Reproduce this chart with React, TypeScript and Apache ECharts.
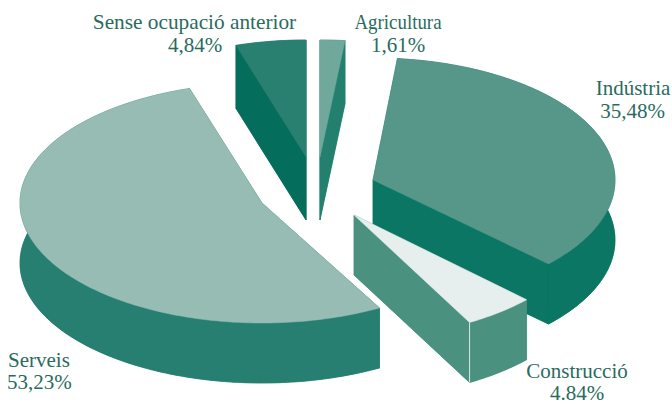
import React, { useEffect, useRef } from "react";
import * as echarts from "echarts";

const categories = ["Agricultura", "Indústria", "Construcció", "Serveis", "Sense ocupació anterior"];
const shares = [1.61, 35.48, 4.84, 53.23, 4.84];
const shareLabels = ["1,61%", "35,48%", "4.84%", "53,23%", "4,84%"];

const topColors = ["#70A89C", "#56978A", "#E6EFEE", "#97BCB4", "#2A8070"];
const sideColors = ["#23806F", "#0A7663", "#4B9180", "#267F70", "#056D5C"];
const textColor = "#2A6B60";

// Exploded position of every slice: centre x, centre y, radius x, radius y, depth
const sliceLayout = [
  [320, 157, 248, 117, 63],
  [373, 180, 242, 122, 60],
  [354, 215, 238, 123, 60],
  [262, 203, 242, 120, 60],
  [306, 157, 234, 117, 63],
];
// x, y, alignment, horizontal scale of each name and each percentage
const nameAnchors = [
  [398, 22, "center", 0.9],
  [633, 88, "center", 1],
  [577, 371, "center", 1],
  [8, 360, "left", 1],
  [194.5, 22, "center", 1.015],
];
const valueAnchors = [
  [398, 45, "center", 1],
  [632.5, 110.5, "center", 1],
  [577, 393, "center", 1],
  [7, 382, "left", 1],
  [195, 45, "center", 1],
];
const FONT = "'Liberation Serif', serif";
const FONT_SIZE = 21;

function renderSlice(params: any, api: any) {
  const i = params.dataIndex;
  const total = shares.reduce((a, b) => a + b, 0);
  const before = shares.slice(0, i).reduce((a, b) => a + b, 0);
  const a0 = (before / total) * 360;
  const a1 = a0 + (api.value(0) / total) * 360;
  const [cx, cy, rx, ry, d] = sliceLayout[i];
  const pt = (deg: number, dy = 0) => {
    const r = (deg * Math.PI) / 180;
    return [cx + rx * Math.sin(r), cy - ry * Math.cos(r) + dy];
  };
  const rim: number[][] = [];
  const n = Math.max(2, Math.ceil(a1 - a0));
  for (let k = 0; k <= n; k++) rim.push(pt(a0 + ((a1 - a0) * k) / n));
  const rimLow = rim.map((p) => [p[0], p[1] + d]);
  const side = { fill: sideColors[i], stroke: sideColors[i], lineWidth: 0.5 };
  const poly = (points: number[][], style: any) => ({
    type: "polygon",
    shape: { points },
    style,
    silent: true,
  });
  const children: any[] = [
    poly([[cx, cy + d], ...rimLow], side),
    poly([[cx, cy], pt(a0), pt(a0, d), [cx, cy + d]], side),
    poly([[cx, cy], pt(a1), pt(a1, d), [cx, cy + d]], side),
    poly([...rim, ...rimLow.slice().reverse()], side),
  ];
  // Construcció has a fine light seam between its two visible faces
  if (i === 2) {
    const c = pt(a1);
    children.push({
      type: "line",
      shape: { x1: c[0], y1: c[1], x2: c[0], y2: c[1] + d },
      style: { stroke: "#DDEAE6", lineWidth: 1 },
      silent: true,
    });
  }
  children.push(
    poly([[cx, cy], ...rim], { fill: topColors[i], stroke: topColors[i], lineWidth: 0.5 })
  );
  return { type: "group", children };
}

function labelGraphics() {
  const out: any[] = [];
  const add = (text: string, a: any[]) =>
    out.push({
      type: "text",
      x: a[0],
      y: a[1],
      scaleX: a[3],
      silent: true,
      style: {
        text,
        fill: textColor,
        font: `${FONT_SIZE}px ${FONT}`,
        textAlign: a[2],
        textVerticalAlign: "middle",
      },
    });
  categories.forEach((c, i) => add(c, nameAnchors[i]));
  shareLabels.forEach((s, i) => add(s, valueAnchors[i]));
  return out;
}

export default function App() {
  const ref = useRef<HTMLDivElement>(null);
  useEffect(() => {
    const chart = echarts.init(ref.current!, null, { renderer: "svg" });
    chart.setOption({
      animation: false,
      backgroundColor: "#ffffff",
      graphic: labelGraphics(),
      series: [
        {
          type: "custom",
          coordinateSystem: "none",
          renderItem: renderSlice,
          data: shares.map((v, i) => ({ name: categories[i], value: [v] })),
          silent: true,
          clip: false,
        },
      ],
    });
    return () => chart.dispose();
  }, []);
  return (
    <div
      ref={ref}
      style={{ position: "absolute", left: 0, top: 0, width: 672, height: 404 }}
    />
  );
}
